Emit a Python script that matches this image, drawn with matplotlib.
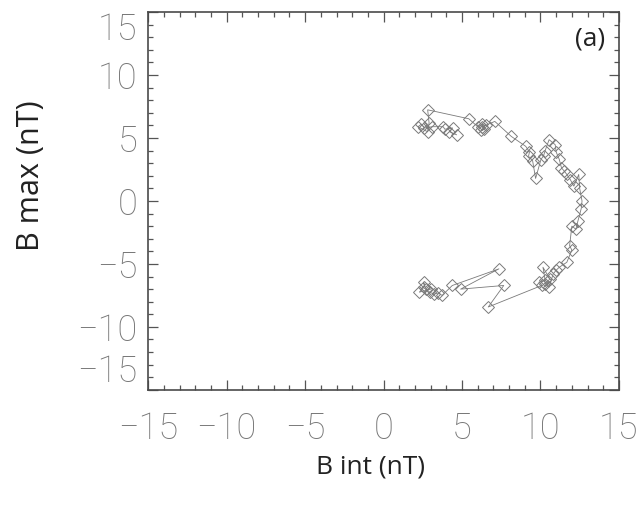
import matplotlib
matplotlib.use("Agg")
import matplotlib.pyplot as plt
from matplotlib.ticker import MultipleLocator

# hodogram: intermediate vs maximum variance component (nT)
b_int = [4.65, 4.2, 4.4, 3.9, 3.8, 3.1, 2.6, 2.4, 2.2, 2.8, 2.9, 2.81,
         5.43, 6.0, 6.3, 6.4, 6.2, 6.5, 6.3, 7.09, 8.14, 9.06, 9.3, 9.24,
         9.5, 9.69, 10.03, 10.2, 10.3, 10.55, 10.94, 11.0, 11.2, 11.34,
         11.5, 11.68, 11.9, 12.13, 12.44, 12.5, 12.65, 12.6, 12.39, 12.26,
         12.0, 11.86, 12.0, 11.68, 11.2, 11.0, 10.81, 10.55, 10.29, 10.6,
         10.16, 10.3, 9.9, 10.1, 6.67, 7.66, 4.91, 7.35, 4.38, 3.73, 3.5,
         3.2, 2.94, 2.7, 2.55, 2.6, 2.28, 3.0]
b_max = [5.26, 5.5, 5.8, 5.7, 5.9, 5.9, 5.8, 6.1, 5.9, 5.5, 6.2, 7.24,
         6.53, 5.9, 6.1, 5.7, 5.6, 6.0, 5.9, 6.32, 5.13, 4.34, 3.9, 3.55,
         3.2, 1.79, 3.29, 3.6, 4.0, 4.87, 4.47, 3.9, 3.3, 2.63,
         2.4, 2.11, 1.7, 1.18, 2.11, 1.0, 0.0, -0.6, -1.58, -2.24,
         -2.0, -3.55, -3.9, -4.87, -5.26, -5.5, -5.79, -6.84, -6.58, -6.2,
         -5.26, -6.3, -6.45, -6.7, -8.42, -6.71, -7.0, -5.39, -6.71, -7.5, -7.3,
         -7.4, -7.24, -7.0, -6.45, -6.8, -7.24, -7.0]

tick_vals = [-15, -10, -5, 0, 5, 10, 15]

fig = plt.figure(figsize=(6.42, 5.05), dpi=100)
ax = fig.add_axes([0.231, 0.228, 0.733, 0.748])

ax.plot(b_int, b_max, "-", color="#7a7a7a", lw=0.6, zorder=2)
ax.plot(b_int, b_max, "D", ms=6, mfc="none", mec="#7a7a7a", mew=0.7,
        zorder=3)

ax.set_xlim(-15, 15)
ax.set_ylim(-15, 15)
ax.set_xticks(tick_vals)
ax.set_yticks(tick_vals)
ax.xaxis.set_minor_locator(MultipleLocator(1))
ax.yaxis.set_minor_locator(MultipleLocator(1))
ax.tick_params(which="both", direction="in", top=True, right=True,
               color="#555555", width=0.9)
ax.tick_params(which="major", length=7)
ax.tick_params(which="minor", length=3.5)
ax.tick_params(axis="x", which="major", pad=15)
ax.tick_params(axis="y", which="major", pad=8)

tick_font = dict(family=["Roboto", "DejaVu Sans"], weight="light",
                 size=26, color="#777777")
ax.set_xticklabels([f"{v:d}".replace("-", "\u2212") for v in tick_vals],
                   **tick_font)
ax.set_yticklabels([f"{v:d}".replace("-", "\u2212") for v in tick_vals],
                   **tick_font)
ylabs = ax.get_yticklabels()
ylabs[0].set_va("bottom")
ylabs[-1].set_va("top")

for sp in ax.spines.values():
    sp.set_color("#4a4a4a")
    sp.set_linewidth(1.2)

label_font = dict(family=["Open Sans", "DejaVu Sans"], color="#222222")
ax.set_xlabel("B int (nT)", size=19, **label_font)
ax.set_ylabel("B max (nT)", size=22, **label_font)
ax.xaxis.set_label_coords(0.472, -0.17)
ax.yaxis.set_label_coords(-0.218, 0.568)
ax.text(0.97, 0.93, "(a)", transform=ax.transAxes, ha="right", va="center",
        size=19, **label_font)

fig.savefig("out.png", dpi=100)
